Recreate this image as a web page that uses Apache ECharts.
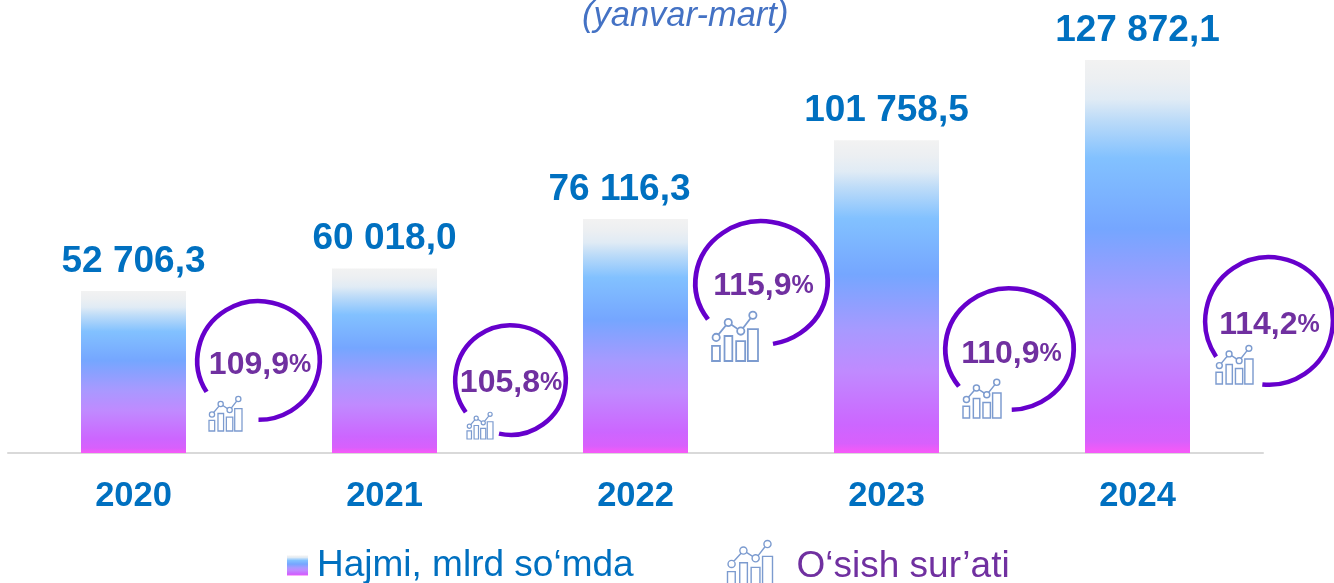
<!DOCTYPE html>
<html><head><meta charset="utf-8">
<style>html,body{margin:0;padding:0;background:#fff}#c{width:1334px;height:583px}</style>
<script src="https://cdn.jsdelivr.net/npm/echarts@6/dist/echarts.min.js"></script>
</head><body><div id="c"></div>
<script>
const years = ['2020','2021','2022','2023','2024'];
const volume = [52706.3, 60018.0, 76116.3, 101758.5, 127872.1];
const growth = [109.9, 105.8, 115.9, 110.9, 114.2];
const volumeName = 'Hajmi, mlrd so‘mda';
const growthName = 'O‘sish sur’ati';
const subtitle = '(yanvar-mart)';

/* ring and icon placement, decoration only */
const ringLayout = [
  {dx:125,   cy:360.5, rx:63.5, ry:61.5, a0:148, a1:90,  tdx:1.5, ty:365, ix:209,  iy:396, iw:33, ih:35},
  {dx:126,   cy:380,   rx:57.5, ry:57,   a0:144, a1:102, tdx:0.5, ty:383, ix:467,  iy:412, iw:26, ih:27},
  {dx:126,   cy:283,   rx:68.5, ry:64,   a0:144, a1:80,  tdx:2,   ty:286, ix:712,  iy:311, iw:46, ih:50},
  {dx:123,   cy:349,   rx:66.5, ry:63,   a0:142, a1:88,  tdx:2,   ty:354, ix:963,  iy:379, iw:38, ih:39},
  {dx:131.5, cy:321,   rx:66,   ry:66,   a0:146, a1:96,  tdx:0.5, ty:325, ix:1216, iy:345, iw:37, ih:39}
];
const labelShift = [0, 0, -16, 0, 0];

const fmt = v => { const [a,b] = v.toFixed(1).split('.');
  return a.replace(/\B(?=(\d{3})+$)/g,' ') + ',' + b; };
const barGradient = {type:'linear',x:0,y:0,x2:0,y2:1,colorStops:[
  {offset:0,color:'#F2F2F2'},{offset:.05,color:'#ECEFF2'},{offset:.1,color:'#E0EBF5'},{offset:.15,color:'#BEDCF8'},
  {offset:.25,color:'#82C1FF'},{offset:.43,color:'#75A6FF'},{offset:.61,color:'#A899FF'},{offset:.74,color:'#C08AFF'},
  {offset:.91,color:'#CC66FF'},{offset:.97,color:'#D860FC'},{offset:.995,color:'#F45AF8'},{offset:1,color:'#F45AF8'}]};

const iconBars = [[0,30,7.4],[11.7,21.5,7.3],[22.6,26,8.4],[33.5,15.5,9.5]];
const iconDots = [[3.9,22.7],[15.2,9.9],[26.9,17.3],[38.2,3.7]];
const iconColor = '#7C9BCF';
const iconPath = 'path://' +
  iconBars.map(b=>`M${b[0]} ${b[1]}h${b[2]}V43H${b[0]}z`).join('') +
  'M5.8 20.3L13.2 12.3M18.1 11.7L24 15.5M29.1 15L36 6' +
  iconDots.map(d=>`M${d[0]+3.4} ${d[1]}a3.4 3.4 0 1 1-6.8 0a3.4 3.4 0 1 1 6.8 0z`).join('') +
  'M0 50.6h0';

function icon(x,y,w,h){
  const sx=w/43, sy=h/43, lw=Math.max(1.2,w/26);
  const st = {fill:'none',stroke:iconColor,lineWidth:lw};
  return [
    ...iconBars.map(b=>({type:'rect',shape:{x:x+b[0]*sx,y:y+b[1]*sy,width:b[2]*sx,height:(43-b[1])*sy},style:st})),
    {type:'polyline',shape:{points:iconDots.map(d=>[x+d[0]*sx,y+d[1]*sy])},style:st},
    ...iconDots.map(d=>({type:'circle',shape:{cx:x+d[0]*sx,cy:y+d[1]*sy,r:3.4*sx},style:{fill:'#fff',stroke:iconColor,lineWidth:lw}}))
  ];
}

const deg = Math.PI/180;
const chart = echarts.init(document.getElementById('c'),null,{renderer:'canvas'});
chart.setOption({
  animation:false,
  title:{text:subtitle,left:577,top:-6,
    textStyle:{fontFamily:'Liberation Sans',fontStyle:'italic',fontWeight:'normal',fontSize:34.5,color:'#4472C4'}},
  grid:{left:8,right:71,top:60,height:393},
  xAxis:{type:'category',data:years,axisTick:{show:false},
    axisLine:{lineStyle:{color:'#D9D9D9',width:2}},
    axisLabel:{margin:26,fontFamily:'Liberation Sans',fontWeight:'bold',fontSize:34.5,color:'#0070C0'}},
  yAxis:{type:'value',min:0,max:127872.1,show:false},
  legend:[
    {data:[{name:volumeName,icon:'rect',itemStyle:{color:barGradient},textStyle:{color:'#0070C0'}}],
     left:287,top:547,itemWidth:21,itemHeight:20,itemGap:0,selectedMode:false,padding:0,
     textStyle:{fontFamily:'Liberation Sans',fontSize:37,padding:[0,0,0,4]}},
    {data:[{name:growthName,icon:iconPath,itemStyle:{color:'none',borderColor:iconColor,borderWidth:1.4},textStyle:{color:'#7030A0'}}],
     left:725,top:538,itemWidth:45,itemHeight:53,selectedMode:false,padding:0,
     textStyle:{fontFamily:'Liberation Sans',fontSize:37,padding:[0,0,0,19]}}
  ],
  series:[
    {name:volumeName,type:'bar',barWidth:105,itemStyle:{color:barGradient},
     data:volume.map((v,i)=>({value:v,label:{offset:[labelShift[i],0]}})),
     label:{show:true,position:'top',distance:11,formatter:p=>fmt(p.value),
       fontFamily:'Liberation Sans',fontWeight:'bold',fontSize:37,color:'#0070C0'}},
    {name:growthName,type:'custom',coordinateSystem:'cartesian2d',clip:false,z:5,
     data:growth.map((g,i)=>[i,g]),
     renderItem:(params,api)=>{
       const i = api.value(0), g = api.value(1), L = ringLayout[i];
       const cx = api.coord([i,0])[0] + L.dx, cy = L.cy;
       const txt = g.toFixed(1).replace('.',',');
       return {type:'group',children:[
         {type:'arc',shape:{cx:0,cy:0,r:L.ry-2.2,startAngle:L.a0*deg,endAngle:L.a1*deg,clockwise:true},
          x:cx,y:cy,scaleX:L.rx/L.ry,
          style:{fill:'none',stroke:'#6600CC',lineWidth:4.5}},
         {type:'text',style:{x:cx+L.tdx,y:L.ty,text:`{a|${txt}}{b|%}`,align:'center',verticalAlign:'middle',
           rich:{a:{fontFamily:'Liberation Sans',fontWeight:'bold',fontSize:32,fill:'#7030A0',color:'#7030A0'},
                 b:{fontFamily:'Liberation Sans',fontWeight:'bold',fontSize:25,fill:'#7030A0',color:'#7030A0'}}}},
         ...icon(L.ix,L.iy,L.iw,L.ih)
       ]};
     }}
  ]
});
</script></body></html>
